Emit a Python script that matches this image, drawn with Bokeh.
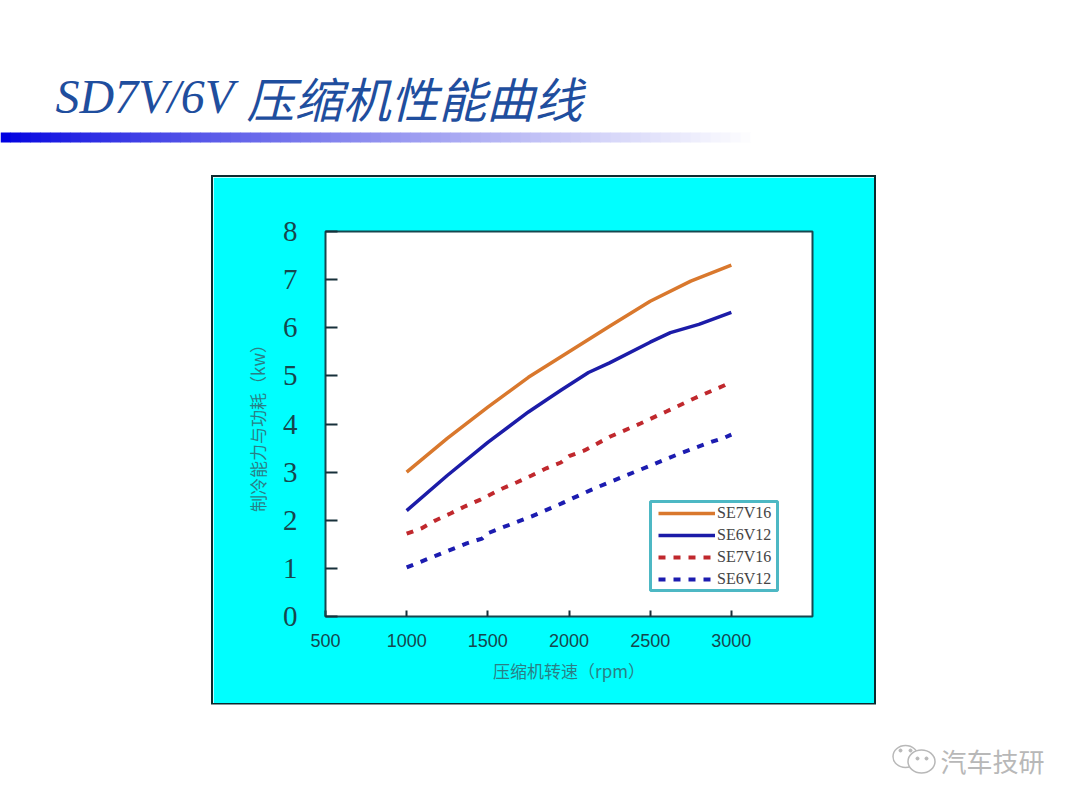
from bokeh.plotting import figure
from bokeh.layouts import column
from bokeh.models import BoxAnnotation, Label, Legend, LegendItem, FixedTicker
from bokeh.embed import file_html
from bokeh.resources import INLINE

rpm_se7v16 = [1000, 1250, 1500, 1750, 2000, 2250, 2500, 2750, 3000]
cap_se7v16 = [3.0, 3.7, 4.35, 4.97, 5.5, 6.03, 6.55, 6.97, 7.3]
rpm_se6v12 = [1000, 1250, 1500, 1750, 1860, 1950, 2120, 2250, 2500, 2625, 2800, 3000]
cap_se6v12 = [2.2, 2.93, 3.62, 4.25, 4.5, 4.7, 5.07, 5.27, 5.7, 5.9, 6.07, 6.32]
rpm_pow7 = [1000, 1090, 1180, 1270, 1360, 1455, 1590, 1680, 1770, 1860, 1950, 2000, 2095,
            2255, 2440, 2600, 2770, 2955, 3000]
pow_se7v16 = [1.72, 1.83, 2.0, 2.14, 2.29, 2.43, 2.66, 2.79, 2.93, 3.08, 3.2, 3.33, 3.45,
              3.74, 4.01, 4.26, 4.53, 4.8, 4.88]
rpm_pow6 = [1000, 1185, 1370, 1465, 1500, 1590, 1770, 1955, 2005, 2170, 2350, 2505, 2685,
            2870, 2960, 3000]
pow_se6v12 = [1.02, 1.27, 1.52, 1.62, 1.73, 1.85, 2.08, 2.35, 2.43, 2.68, 2.93, 3.14, 3.39,
              3.62, 3.72, 3.78]

x_ticks = [500, 1000, 1500, 2000, 2500, 3000]
y_ticks = [0, 1, 2, 3, 4, 5, 6, 7, 8]
names = ["SE7V16", "SE6V12", "SE7V16", "SE6V12"]
title_latin = "SD7V/6V"
title_cjk = "压缩机性能曲线"
xlabel = "压缩机转速（rpm）"
ylabel = "制冷能力与功耗（kw）"
watermark = "汽车技研"

ORANGE, BLUE, RED, NAVY = "#d9782d", "#1c1ca8", "#c0282d", "#1c1cb0"
INK = "#17474e"
CYAN = "#00ffff"
TITLE = "#1f4e9e"
GREY = "#b8b8b8"


def blank(height, y0, y1):
    """Full-width strip whose data units are the page's pixels."""
    f = figure(width=1080, height=height, output_backend="svg", toolbar_location=None,
               x_range=(0, 1080), y_range=(y1, y0), min_border=0,
               background_fill_color="white", border_fill_color="white")
    f.axis.visible = False
    f.grid.visible = False
    f.outline_line_color = None
    f.frame_align = False
    return f


# ---- header: title and fading rule
head = blank(176, 0, 176)
n = 76
lefts = [i * 10 for i in range(n)]
rights = [(i + 1) * 10 + 0.5 for i in range(n)]
cols = []
for i in range(n):
    t = i / (n - 1)
    g = int(255 * t ** 0.8)
    cols.append("#%02x%02x%02x" % (g, g, int(225 + 30 * t)))
head.quad(left=lefts, right=rights, top=132, bottom=142, fill_color=cols, line_color=None)
head.add_layout(Label(x=55, y=96, text=title_latin, text_font="Liberation Serif",
                      text_font_style="italic", text_font_size="48px", text_color=TITLE,
                      text_baseline="alphabetic"))
head.add_layout(Label(x=246, y=96, text=title_cjk, text_font="Noto Sans CJK SC",
                      text_font_style="italic", text_font_size="48px", text_color=TITLE,
                      text_baseline="alphabetic"))

# ---- chart: the figure's border is the cyan panel, its CSS outline the black edge
p = figure(width=661, height=526, output_backend="svg", toolbar_location=None,
           x_range=(500, 3500), y_range=(0, 8),
           min_border_left=112, min_border_right=62, min_border_top=54, min_border_bottom=87,
           background_fill_color="white", border_fill_color=CYAN,
           margin=(1, 0, 1, 213))
p.frame_align = False
p.styles = {"outline": "2px solid #0c2a2e"}
p.grid.visible = False
p.outline_line_color = INK
p.outline_line_width = 2

p.xaxis.ticker = FixedTicker(ticks=x_ticks)
p.yaxis.ticker = FixedTicker(ticks=y_ticks)
p.xaxis.major_tick_in, p.xaxis.major_tick_out = 6, 0
p.yaxis.major_tick_in, p.yaxis.major_tick_out = 12, 0
p.xaxis.minor_tick_line_color = None
p.yaxis.minor_tick_line_color = None
p.axis.axis_line_color = INK
p.axis.major_tick_line_color = "#17303a"
p.axis.major_tick_line_width = 2
p.xaxis.major_label_text_font = "Liberation Sans"
p.xaxis.major_label_text_font_size = "18px"
p.xaxis.major_label_text_color = INK
p.xaxis.major_label_standoff = 17
p.yaxis.major_label_text_font = "Liberation Serif"
p.yaxis.major_label_text_font_size = "29px"
p.yaxis.major_label_text_color = INK
p.yaxis.major_label_standoff = 28
p.xaxis.axis_label = xlabel
p.yaxis.axis_label = ylabel
p.xaxis.axis_label_text_font = "Noto Sans CJK SC"
p.yaxis.axis_label_text_font = "Noto Sans CJK SC"
p.axis.axis_label_text_font_style = "normal"
p.axis.axis_label_text_font_size = "17px"
p.axis.axis_label_text_color = "#2a7f86"
p.xaxis.axis_label_standoff = 8
p.yaxis.axis_label_standoff = 10

r1 = p.line(rpm_se7v16, cap_se7v16, line_color=ORANGE, line_width=3.5)
r2 = p.line(rpm_se6v12, cap_se6v12, line_color=BLUE, line_width=3.5)
r3 = p.line(rpm_pow7, pow_se7v16, line_color=RED, line_width=4, line_dash="7 8")
r4 = p.line(rpm_pow6, pow_se6v12, line_color=NAVY, line_width=4, line_dash="7 8")

# legend frame (screen units here count from the frame's lower left corner)
p.add_layout(BoxAnnotation(left=325, right=452, bottom=26, top=115,
                           left_units="screen", right_units="screen",
                           top_units="screen", bottom_units="screen",
                           fill_color="white", fill_alpha=1,
                           line_color="#4db8c4", line_width=3, line_alpha=1))
legend = Legend(items=[LegendItem(label=n_, renderers=[r]) for n_, r in zip(names, [r1, r2, r3, r4])],
                location=(333, 28), orientation="vertical",
                background_fill_alpha=0, border_line_color=None,
                label_text_font="Liberation Serif", label_text_font_size="16px",
                label_text_color="#444444", glyph_width=57, glyph_height=16,
                label_standoff=2, spacing=4, padding=5, margin=0, label_height=16)
p.add_layout(legend, "center")

# ---- footer: watermark
foot = blank(100, 704, 804)
foot.ellipse(x=[905, 921], y=[756, 761], width=[25, 27], height=[22, 23],
             fill_color="white", line_color=GREY, line_width=1.5)
foot.scatter(x=[900, 910, 917, 926], y=[750, 750, 758, 758], size=3, color=GREY)
foot.add_layout(Label(x=940, y=760, text=watermark, text_font="Noto Sans CJK SC",
                      text_font_size="26px", text_color=GREY, text_baseline="middle"))

open("out.html", "w").write(file_html(column(head, p, foot, spacing=0), INLINE))
